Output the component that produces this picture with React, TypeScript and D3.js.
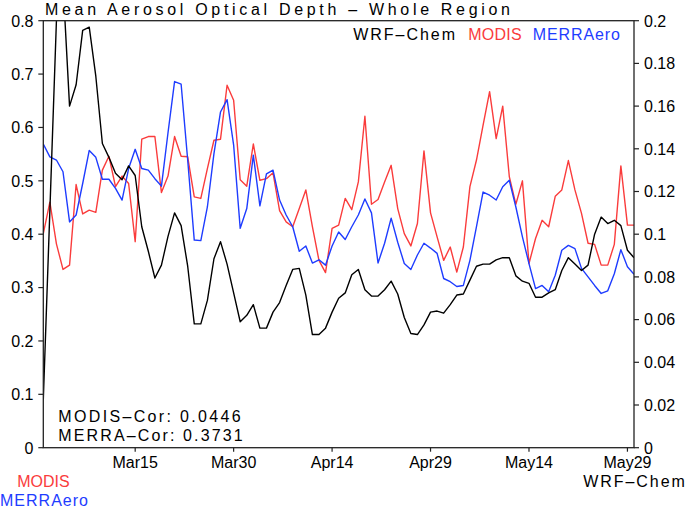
import React from "react";
import * as d3 from "d3";

const W = 686;
const H = 508;

// Daily series, 1 Mar .. 30 May (index 0..90)
const modis: number[] = [
  0.401, 0.46, 0.382, 0.334, 0.342, 0.493, 0.438, 0.445, 0.441, 0.52,
  0.546, 0.489, 0.509, 0.495, 0.386, 0.578, 0.583, 0.583, 0.478, 0.509,
  0.583, 0.546, 0.545, 0.47, 0.467, 0.523, 0.576, 0.578, 0.679, 0.651,
  0.502, 0.49, 0.569, 0.501, 0.504, 0.515, 0.444, 0.423, 0.414, 0.448,
  0.483, 0.414, 0.351, 0.328, 0.411, 0.417, 0.467, 0.446, 0.498, 0.621,
  0.456, 0.465, 0.498, 0.529, 0.448, 0.401, 0.378, 0.42, 0.556, 0.44,
  0.395, 0.351, 0.376, 0.329, 0.376, 0.489, 0.539, 0.604, 0.667, 0.579,
  0.64, 0.508, 0.456, 0.5, 0.345, 0.392, 0.426, 0.414, 0.471, 0.483,
  0.538, 0.483, 0.439, 0.383, 0.381, 0.342, 0.342, 0.381, 0.528, 0.417,
  0.417,
];

const merra: number[] = [
  0.569, 0.545, 0.539, 0.517, 0.423, 0.436, 0.495, 0.557, 0.544, 0.503,
  0.503, 0.486, 0.464, 0.523, 0.559, 0.523, 0.52, 0.504, 0.49, 0.59,
  0.686, 0.681, 0.539, 0.389, 0.388, 0.451, 0.551, 0.629, 0.652, 0.567,
  0.411, 0.448, 0.548, 0.453, 0.513, 0.52, 0.464, 0.436, 0.414, 0.368,
  0.378, 0.346, 0.352, 0.342, 0.378, 0.404, 0.39, 0.414, 0.436, 0.466,
  0.44, 0.346, 0.383, 0.43, 0.385, 0.345, 0.334, 0.361, 0.383, 0.374,
  0.364, 0.317, 0.311, 0.302, 0.304, 0.351, 0.414, 0.479, 0.473, 0.464,
  0.489, 0.501, 0.451, 0.395, 0.345, 0.298, 0.304, 0.292, 0.323, 0.37,
  0.379, 0.373, 0.336, 0.32, 0.304, 0.289, 0.294, 0.326, 0.371, 0.339,
  0.325,
];

// WRF-Chem on the right axis
const wrf: number[] = [
  0.0225, 0.111, 0.2, 0.2175, 0.16, 0.17, 0.1955, 0.197, 0.174, 0.1425,
  0.136, 0.1285, 0.1255, 0.132, 0.1275, 0.1035, 0.092, 0.0795, 0.0855, 0.099,
  0.11, 0.104, 0.085, 0.058, 0.058, 0.069, 0.0885, 0.0965, 0.086, 0.0725,
  0.059, 0.062, 0.067, 0.056, 0.056, 0.0635, 0.068, 0.076, 0.0835, 0.084,
  0.0715, 0.053, 0.053, 0.056, 0.0635, 0.07, 0.0725, 0.081, 0.0835, 0.074,
  0.071, 0.071, 0.074, 0.078, 0.072, 0.061, 0.0535, 0.053, 0.0575, 0.0635,
  0.064, 0.063, 0.067, 0.0715, 0.072, 0.0785, 0.085, 0.086, 0.086, 0.088,
  0.089, 0.089, 0.0805, 0.078, 0.077, 0.0705, 0.0705, 0.0725, 0.074, 0.083,
  0.089, 0.086, 0.083, 0.0855, 0.1, 0.108, 0.105, 0.1065, 0.104, 0.0925,
  0.089,
];

const xTickIdx = [14, 29, 44, 59, 74, 89];
const xTickLabels = ["Mar15", "Mar30", "Apr14", "Apr29", "May14", "May29"];
const leftTicks = [0, 0.1, 0.2, 0.3, 0.4, 0.5, 0.6, 0.7, 0.8];
const rightTicks = [0, 0.02, 0.04, 0.06, 0.08, 0.1, 0.12, 0.14, 0.16, 0.18, 0.2];

const RED = "rgb(250,60,60)";
const BLUE = "rgb(30,60,255)";
const FONT = "'Liberation Sans', Arial, sans-serif";

export default function App() {
  const x0 = 43.3, x1 = 634, yTop = 20.7, yBot = 447.7;
  const x = d3.scaleLinear().domain([0, 90]).range([x0, x1]);
  const yL = d3.scaleLinear().domain([0, 0.8]).range([yBot, yTop]);
  const yR = d3.scaleLinear().domain([0, 0.2]).range([yBot, yTop]);
  const lineL = d3.line<number>().x((_, i) => x(i)).y((d) => yL(d));
  const lineR = d3.line<number>().x((_, i) => x(i)).y((d) => yR(d));

  return (
    <svg
      width={W}
      height={H}
      style={{ position: "absolute", left: 0, top: 0, background: "#fff" }}
      fontFamily={FONT}
    >
      <rect x={0} y={0} width={W} height={H} fill="#fff" />
      <defs>
        <clipPath id="plotclip">
          <rect x={x0} y={yTop} width={x1 - x0} height={yBot - yTop} />
        </clipPath>
      </defs>
      <text x={45} y={15} fontSize={16} textLength={465} lengthAdjust="spacing" fill="#000">
        Mean Aerosol Optical Depth – Whole Region
      </text>

      <g clipPath="url(#plotclip)" fill="none" strokeWidth={1.4} strokeLinejoin="round">
        <path d={lineL(modis) || ""} stroke={RED} />
        <path d={lineL(merra) || ""} stroke={BLUE} />
        <path d={lineR(wrf) || ""} stroke="#000" />
      </g>

      {/* frame */}
      <rect x={x0} y={yTop} width={x1 - x0} height={yBot - yTop} fill="none" stroke="#222" strokeWidth={1.3} />

      {/* left axis */}
      {leftTicks.map((t) => (
        <g key={"l" + t}>
          <line x1={x0 - 5} x2={x0} y1={yL(t)} y2={yL(t)} stroke="#222" strokeWidth={1.2} />
          <text x={33.5} y={yL(t) + 5.8} textAnchor="end" fontSize={16} fill="#000">
            {d3.format("~g")(t)}
          </text>
        </g>
      ))}
      {/* right axis */}
      {rightTicks.map((t) => (
        <g key={"r" + t}>
          <line x1={x1} x2={x1 + 5} y1={yR(t)} y2={yR(t)} stroke="#222" strokeWidth={1.2} />
          <text x={644} y={yR(t) + 5.8} textAnchor="start" fontSize={16} fill="#000">
            {d3.format("~g")(t)}
          </text>
        </g>
      ))}
      {/* bottom axis */}
      {xTickIdx.map((d, i) => (
        <g key={"x" + d}>
          <line x1={x(d)} x2={x(d)} y1={yBot} y2={yBot + 4} stroke="#222" strokeWidth={1.2} />
          <text x={x(d)} y={468.3} textAnchor="middle" fontSize={16} fill="#000">
            {xTickLabels[i]}
          </text>
        </g>
      ))}

      {/* legend */}
      <text x={353.3} y={40} fontSize={16} textLength={101.7} lengthAdjust="spacing" fill="#000">WRF–Chem</text>
      <text x={468.3} y={40} fontSize={16} textLength={53.4} lengthAdjust="spacing" fill={RED}>MODIS</text>
      <text x={532.7} y={40} fontSize={16} textLength={87.3} lengthAdjust="spacing" fill={BLUE}>MERRAero</text>

      {/* correlations */}
      <text x={58.3} y={421.7} fontSize={16} textLength={182.4} lengthAdjust="spacing" fill="#000">MODIS–Cor: 0.0446</text>
      <text x={58.3} y={440.7} fontSize={16} textLength={184.4} lengthAdjust="spacing" fill="#000">MERRA–Cor: 0.3731</text>

      {/* axis names */}
      <text x={43.5} y={486.7} textAnchor="middle" fontSize={16} fill={RED}>MODIS</text>
      <text x={44} y={505.7} textAnchor="middle" fontSize={16} textLength={88} lengthAdjust="spacing" fill={BLUE}>MERRAero</text>
      <text x={634} y={486.7} textAnchor="middle" fontSize={16} textLength={101.7} lengthAdjust="spacing" fill="#000">WRF–Chem</text>
    </svg>
  );
}
